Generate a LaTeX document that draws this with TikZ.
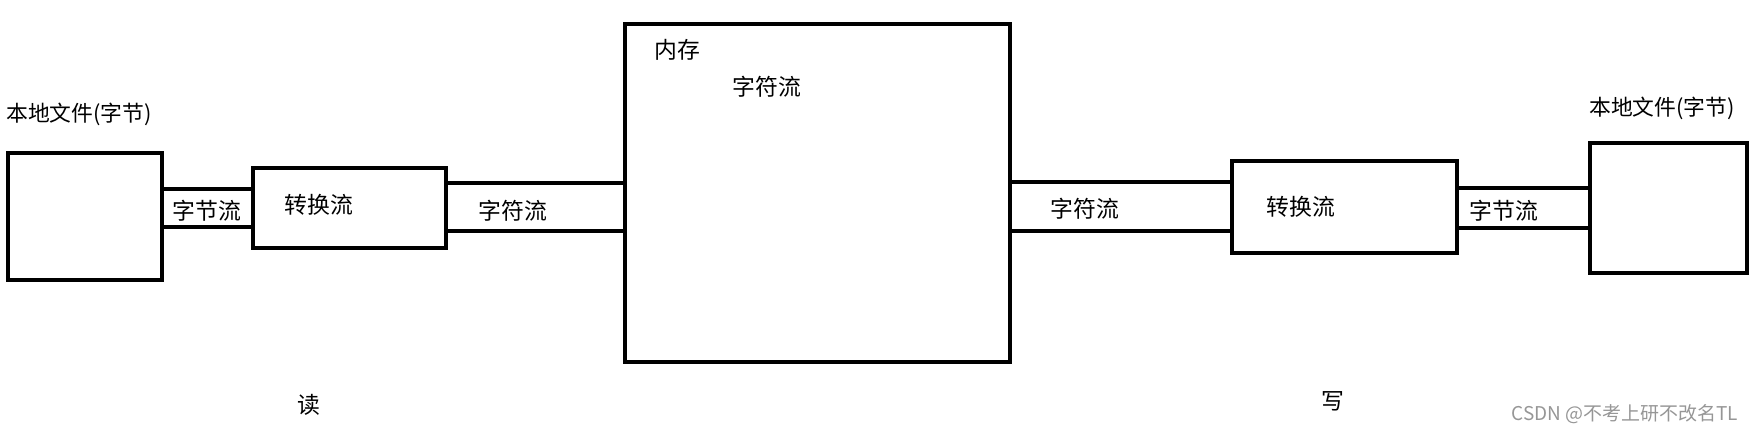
\documentclass[tikz,border=0pt]{standalone}
\usepackage{fontspec}
\setmainfont{Noto Sans CJK SC}
\usepackage{tikz}
\usetikzlibrary{positioning}
\definecolor{markgray}{RGB}{150, 150, 150}
\tikzset{
  box/.style={draw=black, line width=2pt, fill=white, inner sep=0pt, outer sep=0pt},
  pipe/.style={draw=black, line width=2pt, inner sep=0pt, outer sep=0pt},
  lbl/.style={inner sep=0pt, font=\fontsize{13}{15}\selectfont}
}

\begin{document}
\begin{tikzpicture}
    \useasboundingbox (0,0) rectangle (35.12,-8.64);
    % 读 : 本地文件 -> 转换流 -> 内存
    \node (fileL) [box, minimum width=3.08cm, minimum height=2.54cm] at (1.70,-4.33) {};
    \node (chanLb) [pipe, minimum width=1.82cm, minimum height=0.76cm] at (4.15,-4.16) {};
    \node (convL) [box, minimum width=3.86cm, minimum height=1.60cm] at (6.99,-4.16) {};
    \node (chanLc) [pipe, minimum width=3.58cm, minimum height=0.96cm] at (10.71,-4.14) {};
    % 内存
    \node (mem) [box, minimum width=7.70cm, minimum height=6.76cm] at (16.35,-3.86) {};
    % 写 : 内存 -> 转换流 -> 本地文件
    \node (chanRc) [pipe, minimum width=4.44cm, minimum height=0.98cm] at (22.42,-4.13) {};
    \node (convR) [box, minimum width=4.50cm, minimum height=1.84cm] at (26.89,-4.14) {};
    \node (chanRb) [pipe, minimum width=2.66cm, minimum height=0.80cm] at (30.47,-4.16) {};
    \node (fileR) [box, minimum width=3.14cm, minimum height=2.60cm] at (33.37,-4.16) {};
    % 文字
    \node (fileLtxt) [lbl, font=\fontsize{12.4}{15}\selectfont] at (1.58,-2.28) {本地文件(字节)};
    \node (chanLbtxt) [lbl] at (4.14,-4.22) {字节流};
    \node (convLtxt) [lbl] at (6.38,-4.10) {转换流};
    \node (chanLctxt) [lbl] at (10.26,-4.22) {字符流};
    \node (memtxt) [lbl] at (13.54,-1.00) {内存};
    \node (memchar) [lbl] at (15.34,-1.74) {字符流};
    \node (chanRctxt) [lbl] at (21.70,-4.18) {字符流};
    \node (convRtxt) [lbl] at (26.02,-4.14) {转换流};
    \node (chanRbtxt) [lbl] at (30.08,-4.22) {字节流};
    \node (fileRtxt) [lbl, font=\fontsize{12.4}{15}\selectfont] at (33.24,-2.16) {本地文件(字节)};
    \node (readtxt) [lbl] at (6.18,-8.10) {读};
    \node (writetxt) [lbl] at (26.66,-8.02) {写};
    \node (mark) [inner sep=0pt, text=markgray, font=\fontsize{10.8}{12}\selectfont] at (32.50,-8.28) {CSDN @不考上研不改名TL};
\end{tikzpicture}
\end{document}
